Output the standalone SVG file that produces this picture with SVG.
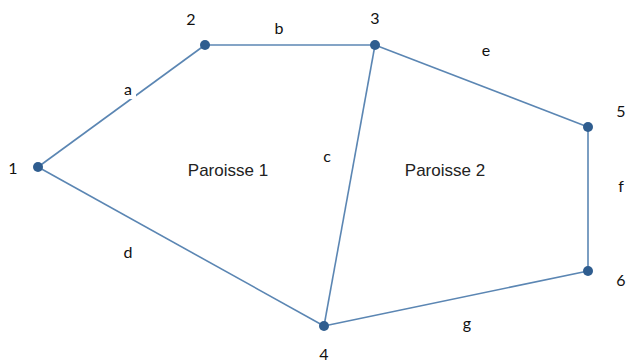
<svg xmlns="http://www.w3.org/2000/svg" width="626" height="363" viewBox="0 0 626 363">
<style>
.e{stroke:#5b86b3;stroke-width:1.6;fill:none}
.n{fill:#2f5d8f}
.t{font-family:Lato,"Liberation Sans",sans-serif;font-size:16px;fill:#111;text-anchor:middle}
.p{font-family:"Liberation Sans",Arial,sans-serif;font-size:17px;fill:#222;text-anchor:middle}
</style>
<rect width="626" height="363" fill="#fff"/>
<g id="connectors">
<line class="e" x1="38" y1="167" x2="205" y2="45"/>
<line class="e" x1="205" y1="45" x2="375" y2="45"/>
<line class="e" x1="375" y1="45" x2="588" y2="127"/>
<line class="e" x1="588" y1="127" x2="588" y2="271"/>
<line class="e" x1="588" y1="271" x2="324" y2="326"/>
<line class="e" x1="324" y1="326" x2="38" y2="167"/>
<line class="e" x1="375" y1="45" x2="324" y2="326"/>
<rect x="121" y="79" width="15" height="20" fill="#fff"/>
<text class="t" x="128" y="95">a</text>
<text class="t" x="279" y="34">b</text>
<text class="t" x="327" y="162">c</text>
<text class="t" x="128" y="258">d</text>
<text class="t" x="486" y="56">e</text>
<text class="t" x="621" y="192">f</text>
<text class="t" x="467" y="329">g</text>
</g>
<g id="n1"><circle class="n" cx="38" cy="167" r="5"/><text class="t" x="13" y="174">1</text></g>
<g id="n2"><circle class="n" cx="205" cy="45" r="5"/><text class="t" x="191" y="25">2</text></g>
<g id="n3"><circle class="n" cx="375" cy="45" r="5"/><text class="t" x="375" y="24">3</text></g>
<g id="n4"><circle class="n" cx="324" cy="326" r="5"/><text class="t" x="324" y="360">4</text></g>
<g id="n5"><circle class="n" cx="588" cy="127" r="5"/><text class="t" x="621" y="117">5</text></g>
<g id="n6"><circle class="n" cx="588" cy="271" r="5"/><text class="t" x="621" y="286">6</text></g>
<g id="parishes">
<text class="p" x="228" y="176">Paroisse 1</text>
<text class="p" x="445" y="176">Paroisse 2</text>
</g>
</svg>
